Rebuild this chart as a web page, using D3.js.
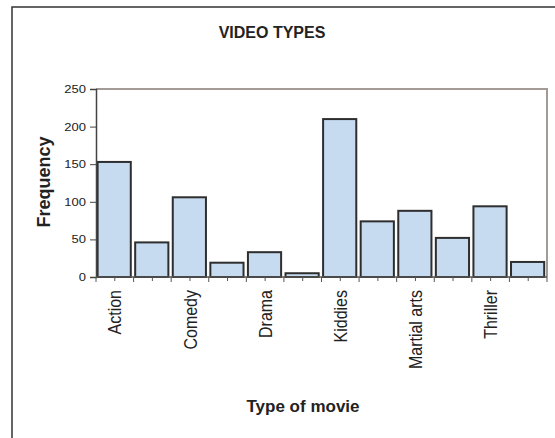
<!DOCTYPE html>
<html>
<head>
<meta charset="utf-8">
<script src="https://cdn.jsdelivr.net/npm/d3@7"></script>
<style>
  body { margin: 0; background: #fff; }
  text { font-family: "Liberation Sans", Arial, sans-serif; fill: #222; }
</style>
</head>
<body>
<div id="chart"></div>
<script>
/* DATA */
// only every other category name is printed on the axis
const categories = ["Action", "Adventure", "Comedy", "Documentary", "Drama", "Horror",
  "Kiddies", "Love", "Martial arts", "Musical", "Thriller", "Western"];
const frequencies = [153, 46, 106, 19, 33, 5, 210, 74, 88, 52, 94, 20];
const yTicks = [0, 50, 100, 150, 200, 250];

/* CONSTANTS */
const width = 555, height = 438;
const plot = { left: 96, right: 547, top: 89, bottom: 277 };
const stretch = 1.18; // the original's text looks a bit wider than normal

const svg = d3.select("#chart").append("svg")
  .attr("width", width)
  .attr("height", height);

// outer chart frame (runs off the right/bottom of the picture)
svg.append("rect")
  .attr("x", 12).attr("y", 7)
  .attr("width", 600).attr("height", 500)
  .attr("fill", "#fff")
  .attr("stroke", "#333")
  .attr("stroke-width", 1.5);

const xScale = d3.scaleBand()
  .domain(categories)
  .range([plot.left, plot.right]);

const yScale = d3.scaleLinear()
  .domain([0, 250])
  .range([plot.bottom, plot.top]);

// plot area top + right border
svg.append("path")
  .attr("d", `M${plot.left},${plot.top}H${plot.right}V${plot.bottom}`)
  .attr("fill", "none")
  .attr("stroke", "#a39a96")
  .attr("stroke-width", 2);

// bars
svg.selectAll(".bar")
  .data(frequencies)
  .join("rect")
  .attr("class", "bar")
  .attr("x", (d, i) => xScale(categories[i]) + 1.6)
  .attr("width", xScale.bandwidth() - 4.4)
  .attr("y", d => yScale(d))
  .attr("height", d => yScale(0) - yScale(d))
  .attr("fill", "#c6daf0")
  .attr("stroke", "#2e2e2e")
  .attr("stroke-width", 2);

// y axis
const yAxis = svg.append("g")
  .attr("transform", `translate(${plot.left},0)`)
  .call(d3.axisLeft(yScale).tickValues(yTicks).tickSize(6).tickPadding(4));
yAxis.select(".domain").attr("stroke", "#444").attr("stroke-width", 1.5);
yAxis.selectAll(".tick line").attr("stroke", "#444");
yAxis.selectAll(".tick text")
  .attr("x", -10 / stretch)
  .attr("transform", `scale(${stretch},1)`)
  .style("font-size", "11px")
  .style("font-family", "Liberation Sans, Arial, sans-serif")
  .attr("fill", "#333");

// x axis line
svg.append("line")
  .attr("x1", plot.left).attr("x2", plot.right)
  .attr("y1", plot.bottom).attr("y2", plot.bottom)
  .attr("stroke", "#555").attr("stroke-width", 1.5);

// tick marks at category boundaries and centres
const boundaries = categories.map(c => xScale(c)).concat([plot.right]);
svg.selectAll(".btick")
  .data(boundaries)
  .join("line")
  .attr("x1", d => d).attr("x2", d => d)
  .attr("y1", plot.bottom).attr("y2", plot.bottom + 5)
  .attr("stroke", "#555");
svg.selectAll(".ctick")
  .data(categories)
  .join("line")
  .attr("x1", d => xScale(d) + xScale.bandwidth() / 2)
  .attr("x2", d => xScale(d) + xScale.bandwidth() / 2)
  .attr("y1", plot.bottom).attr("y2", plot.bottom + 4)
  .attr("stroke", "#555");

// category labels, every second one
svg.selectAll(".xlabel")
  .data(categories.filter((d, i) => i % 2 === 0))
  .join("text")
  .attr("class", "xlabel")
  .attr("transform", d => `translate(${xScale(d) + xScale.bandwidth() / 2},${plot.bottom + 13}) rotate(-90) scale(1,${stretch})`)
  .attr("text-anchor", "end")
  .attr("dy", "0.35em")
  .style("font-size", "16px")
  .text(d => d);

// titles
svg.append("text")
  .attr("x", 272).attr("y", 38)
  .attr("text-anchor", "middle")
  .style("font-size", "16px")
  .style("font-weight", "bold")
  .attr("fill", "#333")
  .text("VIDEO TYPES");

svg.append("text")
  .attr("transform", "translate(50,182) rotate(-90)")
  .attr("text-anchor", "middle")
  .style("font-size", "18px")
  .style("font-weight", "bold")
  .attr("fill", "#333")
  .text("Frequency");

svg.append("text")
  .attr("x", 303).attr("y", 412)
  .attr("text-anchor", "middle")
  .style("font-size", "17px")
  .style("font-weight", "bold")
  .attr("fill", "#333")
  .text("Type of movie");
</script>
</body>
</html>
